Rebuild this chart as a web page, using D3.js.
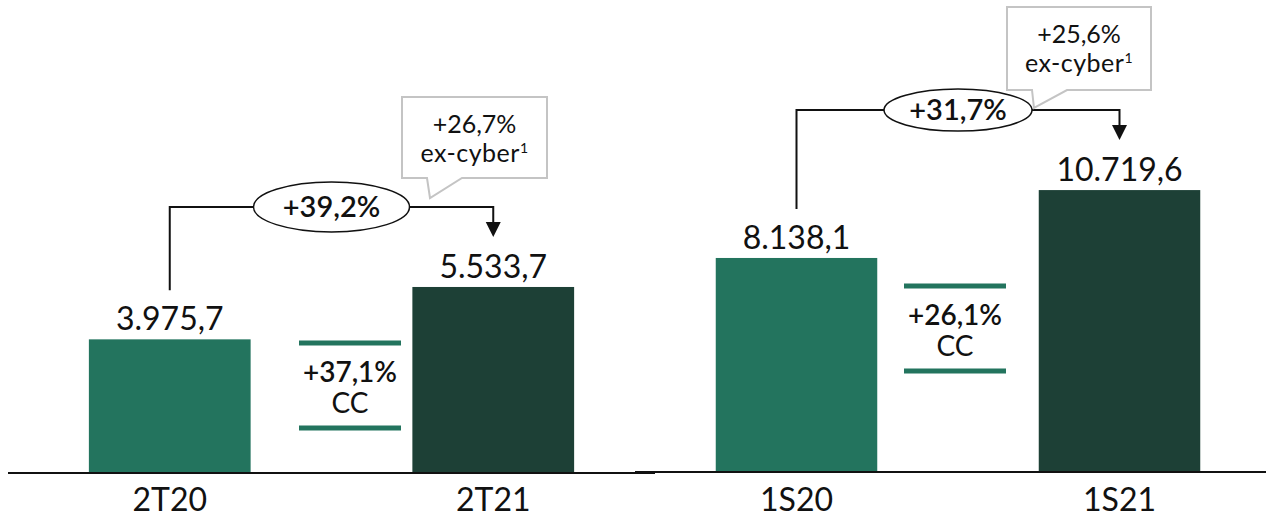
<!DOCTYPE html>
<html>
<head>
<meta charset="utf-8">
<script src="https://cdn.jsdelivr.net/npm/d3@7"></script>
<style>
  body { margin: 0; background: #fff; }
  svg text { font-family: Lato, "Open Sans", sans-serif; fill: #111; }
</style>
</head>
<body>
<div id="chart"></div>
<script>
// data
var categories = [["2T20", "2T21"], ["1S20", "1S21"]];
var values = [[3975.7, 5533.7], [8138.1, 10719.6]];
var growthLabels = ["+39,2%", "+31,7%"];
var ccLabels = ["+37,1%", "+26,1%"];
var exCyberLabels = ["+26,7%", "+25,6%"];

var width = 1266, height = 519;
var colors = ["#23745e", "#1d4036"];

var locale = d3.formatLocale({decimal: ",", thousands: ".", grouping: [3], currency: ["", ""]});
var fmt = locale.format(",.1f");

// layout of the two panels (positions only)
var panels = [
    {x0: 8, x1: 655, axisEnd: 655, base: 473, yMax: 6000, yTop: 271.3,
     ell: [78, 25], ccX: 350, ccY: [343, 428],
     box: {x: 402, y: 97, w: 145, h: 81, tail: [427, 462, 430, 198]}},
    {x0: 635, x1: 1281, axisEnd: 1266, base: 472, yMax: 12000, yTop: 156.4,
     ell: [74, 21], ccX: 955, ccY: [286, 371],
     box: {x: 1007, y: 7, w: 144, h: 83, tail: [1032, 1067, 1034, 108]}}
];

var svg = d3.select("#chart").append("svg")
    .attr("width", width).attr("height", height);

panels.forEach(function(p, i) {
    var g = svg.append("g");

    var x = d3.scaleBand()
        .domain(categories[i])
        .range([p.x0, p.x1])
        .paddingInner(0.5)
        .paddingOuter(0.25);

    var y = d3.scaleLinear()
        .domain([0, p.yMax])
        .range([p.base, p.yTop]);

    var rows = categories[i].map(function(c, j) { return {cat: c, val: values[i][j], j: j}; });

    g.selectAll(".bar")
      .data(rows)
      .enter().append("rect")
        .attr("class", "bar")
        .attr("x", function(d) { return x(d.cat); })
        .attr("y", function(d) { return y(d.val); })
        .attr("width", x.bandwidth())
        .attr("height", function(d) { return p.base - y(d.val); })
        .attr("fill", function(d) { return colors[d.j]; });

    g.selectAll(".val")
      .data(rows)
      .enter().append("text")
        .attr("class", "val")
        .attr("x", function(d) { return x(d.cat) + x.bandwidth() / 2; })
        .attr("y", function(d) { return y(d.val) - 9; })
        .attr("text-anchor", "middle")
        .style("font-size", "32px")
        .text(function(d) { return fmt(d.val); });

    // baseline + category labels
    g.append("line")
        .attr("x1", p.x0).attr("x2", p.axisEnd)
        .attr("y1", p.base).attr("y2", p.base)
        .attr("stroke", "#111").attr("stroke-width", 2);

    g.selectAll(".cat")
      .data(rows)
      .enter().append("text")
        .attr("class", "cat")
        .attr("x", function(d) { return x(d.cat) + x.bandwidth() / 2; })
        .attr("y", 511)
        .attr("text-anchor", "middle")
        .style("font-size", "32px")
        .text(function(d) { return d.cat; });

    // growth bracket
    var cx0 = x(categories[i][0]) + x.bandwidth() / 2;
    var cx1 = x(categories[i][1]) + x.bandwidth() / 2;
    var top0 = y(values[i][0]), top1 = y(values[i][1]);
    var by = Math.min(top0, top1) - 80;
    var tip = top1 - 50;

    g.append("path")
        .attr("d", "M" + cx0 + "," + (top0 - 49) + "V" + by + "H" + cx1 + "V" + (tip - 12))
        .attr("fill", "none").attr("stroke", "#111").attr("stroke-width", 2);
    g.append("path")
        .attr("d", "M" + (cx1 - 7.5) + "," + (tip - 15) + "L" + (cx1 + 7.5) + "," + (tip - 15) + "L" + cx1 + "," + tip + "Z")
        .attr("fill", "#111");

    var mx = (cx0 + cx1) / 2;
    g.append("ellipse")
        .attr("cx", mx).attr("cy", by)
        .attr("rx", p.ell[0]).attr("ry", p.ell[1])
        .attr("fill", "#fff").attr("stroke", "#111").attr("stroke-width", 1.5);
    g.append("text")
        .attr("x", mx).attr("y", by + 10)
        .attr("text-anchor", "middle")
        .style("font-size", "29px").style("font-weight", 600)
        .text(growthLabels[i]);

    // ex-cyber callout
    var b = p.box;
    g.append("path")
        .attr("d", "M" + b.tail[0] + "," + (b.y + b.h) + "H" + b.x + "V" + b.y + "H" + (b.x + b.w) +
              "V" + (b.y + b.h) + "H" + b.tail[1] + "L" + b.tail[2] + "," + b.tail[3] + "Z")
        .attr("fill", "#fff").attr("stroke", "#c4c4c4").attr("stroke-width", 2);
    var bx = b.x + b.w / 2;
    g.append("text")
        .attr("x", bx).attr("y", b.y + 36)
        .attr("text-anchor", "middle")
        .style("font-size", "25px")
        .text(exCyberLabels[i]);
    var t2 = g.append("text")
        .attr("x", bx).attr("y", b.y + 65)
        .attr("text-anchor", "middle")
        .style("font-size", "25px")
        .style("letter-spacing", "0.5px");
    t2.append("tspan").text("ex-cyber");
    t2.append("tspan").attr("dy", -9).style("font-size", "14px").text("1");

    // constant currency marker
    [p.ccY[0], p.ccY[1]].forEach(function(ly) {
        g.append("line")
            .attr("x1", p.ccX - 51).attr("x2", p.ccX + 51)
            .attr("y1", ly).attr("y2", ly)
            .attr("stroke", colors[0]).attr("stroke-width", 5);
    });
    g.append("text")
        .attr("x", p.ccX).attr("y", p.ccY[0] + 39)
        .attr("text-anchor", "middle")
        .style("font-size", "28px").style("font-weight", 600)
        .text(ccLabels[i]);
    g.append("text")
        .attr("x", p.ccX).attr("y", p.ccY[0] + 70)
        .attr("text-anchor", "middle")
        .style("font-size", "28px")
        .text("CC");
});
</script>
</body>
</html>
